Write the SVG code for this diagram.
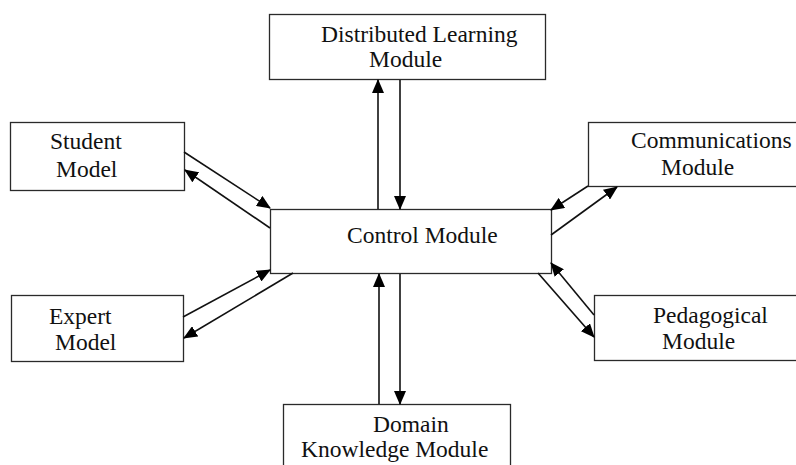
<svg xmlns="http://www.w3.org/2000/svg" width="796" height="465" viewBox="0 0 796 465">
<style>
.box{fill:#fff;stroke:#2a2a2a;stroke-width:1.3}
.c{stroke:#111;stroke-width:1.6;fill:none;marker-end:url(#ah)}
</style>
<defs>
<marker id="ah" markerUnits="userSpaceOnUse" markerWidth="14" markerHeight="12" refX="13" refY="6" orient="auto" viewBox="0 0 14 12">
<path d="M0,0 L14,6 L0,12 Z" fill="#000"/>
</marker>
</defs>
<rect width="796" height="465" fill="#fff"/>
<g font-family="'Liberation Serif', 'Times New Roman', serif" font-size="23.5" fill="#111">
<g id="distributed">
<rect class="box" x="269.5" y="14.5" width="276" height="65"/>
<text x="321" y="42">Distributed Learning</text>
<text x="369" y="67">Module</text>
</g>
<g id="student">
<rect class="box" x="10.5" y="122.5" width="174" height="68"/>
<text x="50" y="149">Student</text>
<text x="56" y="177">Model</text>
</g>
<g id="communications">
<rect class="box" x="588.5" y="122.5" width="215" height="64"/>
<text x="631" y="148">Communications</text>
<text x="661" y="175">Module</text>
</g>
<g id="control">
<rect class="box" x="270.5" y="209.5" width="281" height="64"/>
<text x="347" y="243">Control Module</text>
</g>
<g id="expert">
<rect class="box" x="11.5" y="295.5" width="172" height="66"/>
<text x="49" y="324">Expert</text>
<text x="55" y="350">Model</text>
</g>
<g id="pedagogical">
<rect class="box" x="594.5" y="295.5" width="210" height="65"/>
<text x="653" y="323">Pedagogical</text>
<text x="662" y="349">Module</text>
</g>
<g id="domain">
<rect class="box" x="283.5" y="404.5" width="227" height="70"/>
<text x="373" y="432">Domain</text>
<text x="301" y="457">Knowledge Module</text>
</g>
</g>
<g id="connectors">
<line class="c" x1="378" y1="209" x2="378" y2="80"/>
<line class="c" x1="400" y1="80" x2="400" y2="209"/>
<line class="c" x1="379" y1="404" x2="379" y2="274"/>
<line class="c" x1="400" y1="274" x2="400" y2="404"/>
<line class="c" x1="184" y1="152" x2="270" y2="208"/>
<line class="c" x1="270" y1="228" x2="185" y2="170"/>
<line class="c" x1="588" y1="186" x2="551" y2="210"/>
<line class="c" x1="551" y1="235" x2="617" y2="187"/>
<line class="c" x1="183" y1="317" x2="270" y2="270"/>
<line class="c" x1="293" y1="273" x2="184" y2="338"/>
<line class="c" x1="594" y1="315" x2="551" y2="263"/>
<line class="c" x1="538" y1="273" x2="594" y2="337"/>
</g>
</svg>
